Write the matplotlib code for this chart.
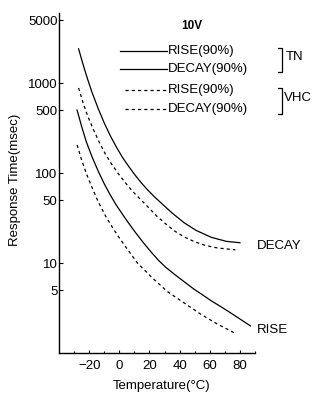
import matplotlib

matplotlib.use("Agg")
from matplotlib import pyplot as plt
from matplotlib.lines import Line2D

W, H = 315, 393

# TN, 10V
tn_decay_temp = [-27, -24, -21, -18, -14, -10, -6, -2, 2, 6, 10, 14, 18, 23, 28, 35, 43, 51, 61, 71, 80]
tn_decay = [2400, 1600, 1100, 780, 520, 360, 260, 195, 150, 120, 97, 80, 67, 55, 46, 36, 28, 23, 19.3, 17.4, 16.8]
tn_rise_temp = [-28, -25, -22, -18, -14, -10, -6, -2, 2, 6, 11, 16, 21, 26, 31, 37, 43, 49, 55, 61, 67, 73, 79, 87]
tn_rise = [500, 330, 225, 150, 105, 76, 57, 44, 35, 28, 21.5, 16.8, 13.3, 10.7, 8.9, 7.4, 6.2, 5.2, 4.45, 3.8, 3.3, 2.85, 2.45, 2.0]

# VHC, 10V
vhc_decay_temp = [-27, -24, -21, -17, -13, -9, -5, -1, 4, 9, 14, 19, 25, 31, 37, 43, 50, 57, 65, 77]
vhc_decay = [880, 600, 430, 300, 215, 160, 125, 100, 78, 62, 51, 42, 33, 27, 22.5, 19.5, 17.2, 15.7, 14.7, 14]
vhc_rise_temp = [-28, -25, -22, -19, -14, -9, -4, 0, 5, 12, 22, 32, 43, 54, 65, 77]
vhc_rise = [205, 140, 100, 75, 48, 33, 24, 19, 14.5, 10, 6.8, 4.8, 3.6, 2.7, 2.1, 1.65]

y_ticks = [5, 10, 50, 100, 500, 1000, 5000]
x_ticks = [-20, 0, 20, 40, 60, 80]

DASH = (0, (2.5, 2.5))
FS = 9.5


def fx(x: float) -> float:
    return x / W


def fy(y: float) -> float:
    return 1 - y / H


plt.rcParams["font.family"] = ["Liberation Sans", "DejaVu Sans"]

fig = plt.figure(figsize=(W / 100, H / 100), dpi=100)
ax = fig.add_axes((fx(59), fy(353), fx(255) - fx(59), fy(13) - fy(353)))

kw = dict(color="black", linewidth=0.9)
ax.plot(tn_decay_temp, tn_decay, **kw)
ax.plot(tn_rise_temp, tn_rise, **kw)
ax.plot(vhc_decay_temp, vhc_decay, linestyle=DASH, **kw)
ax.plot(vhc_rise_temp, vhc_rise, linestyle=DASH, **kw)

ax.set_yscale("log")
ax.set_ylim(1, 6000)
ax.set_xlim(-40, 90)
ax.set_yticks(y_ticks)
ax.set_yticklabels([str(t) for t in y_ticks])
ax.yaxis.set_minor_locator(matplotlib.ticker.NullLocator())
ax.set_xticks(x_ticks)
ax.set_xticklabels(["\u221220" if t < 0 else str(t) for t in x_ticks])
ax.set_xticks(range(-30, 91, 10), minor=True)
ax.tick_params(axis="both", which="both", direction="in", labelsize=FS, width=0.8)
ax.tick_params(axis="y", length=3, pad=1)
ax.tick_params(axis="x", which="major", length=2.5, pad=5)
ax.tick_params(axis="x", which="minor", length=1.5)
for side in ("top", "right"):
    ax.spines[side].set_visible(False)
for side in ("left", "bottom"):
    ax.spines[side].set_linewidth(1.0)

fig.text(fx(15), fy(180), "Response Time(msec)", rotation=90, ha="center", va="center", fontsize=FS)
fig.text(fx(162), fy(386), "Temperature(\u00b0C)", ha="center", va="center", fontsize=FS)

# legend block
fig.text(fx(192), fy(26), "10V", ha="center", va="center", fontsize=8.5, fontweight="bold")
legend_rows = [
    (51, 120, "-", "RISE(90%)"),
    (69, 120, "-", "DECAY(90%)"),
    (90, 125, DASH, "RISE(90%)"),
    (109, 125, DASH, "DECAY(90%)"),
]
for y, x0, ls, label in legend_rows:
    fig.add_artist(Line2D([fx(x0), fx(167)], [fy(y), fy(y)], linestyle=ls, **kw))
    fig.text(fx(168), fy(y), label, ha="left", va="center", fontsize=FS)

for y0, y1, label, lx in [(48, 72, "TN", 286), (88, 114, "VHC", 284)]:
    fig.add_artist(
        Line2D([fx(278), fx(282), fx(282), fx(278)], [fy(y0), fy(y0), fy(y1), fy(y1)], **kw)
    )
    fig.text(fx(lx), fy((y0 + y1) / 2 - 3), label, ha="left", va="center", fontsize=FS)

fig.text(fx(257), fy(246), "DECAY", ha="left", va="center", fontsize=FS)
fig.text(fx(257), fy(330), "RISE", ha="left", va="center", fontsize=FS)

fig.savefig("out.png", dpi=100)
